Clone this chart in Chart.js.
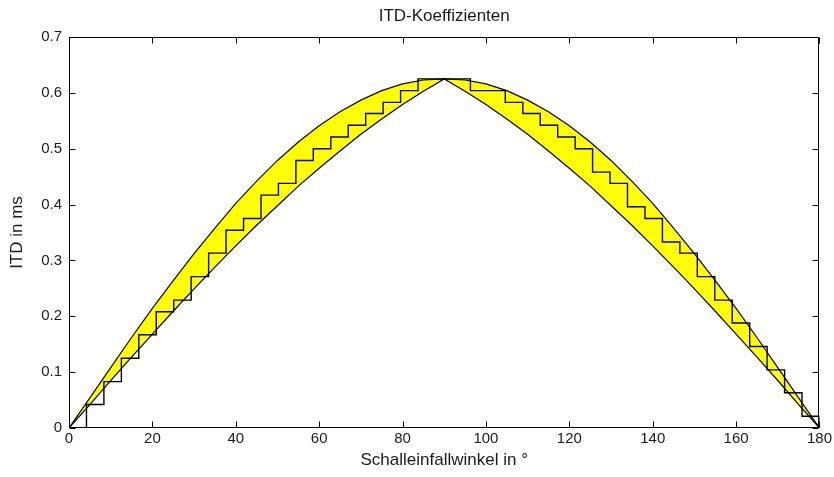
<!DOCTYPE html>
<html>
<head>
<meta charset="utf-8">
<script src="https://cdn.jsdelivr.net/npm/chart.js@4.4.0/dist/chart.umd.min.js"></script>
<style>
  html, body { margin: 0; padding: 0; background: #fff; }
  #wrap { width: 834px; height: 477px; }
</style>
</head>
<body>
<div id="wrap"><canvas id="c" width="834" height="477"></canvas></div>
<script>
// ---- data ----
const curveAngles = [0,5,10,15,20,25,30,35,40,45,50,55,60,65,70,75,80,85,90,
  95,100,105,110,115,120,125,130,135,140,145,150,155,160,165,170,175,180];
const upperITD = [0,0.054,0.108,0.162,0.214,0.264,0.312,0.358,0.402,0.442,0.479,0.512,0.541,0.566,0.587,0.604,0.616,0.623,0.625,
  0.623,0.616,0.604,0.587,0.566,0.541,0.512,0.479,0.442,0.402,0.358,0.312,0.264,0.214,0.162,0.108,0.054,0];
const lowerITD = [0,0.042,0.085,0.127,0.168,0.209,0.249,0.288,0.326,0.363,0.398,0.433,0.465,0.496,0.526,0.553,0.579,0.603,0.625,
  0.603,0.579,0.553,0.526,0.496,0.465,0.433,0.398,0.363,0.326,0.288,0.249,0.209,0.168,0.127,0.085,0.042,0];
const stairAngles = [0,4.19,8.37,12.56,16.74,20.93,25.12,29.3,33.49,37.67,41.86,46.05,50.23,54.42,58.6,62.79,66.98,71.16,75.35,79.53,83.72,87.91,
  92.09,96.28,100.47,104.65,108.84,113.02,117.21,121.4,125.58,129.77,133.95,138.14,142.33,146.51,150.7,154.88,159.07,163.26,167.44,171.63,175.81,180];
const stairITD = [0,0.042,0.083,0.125,0.167,0.208,0.229,0.271,0.313,0.354,0.375,0.417,0.438,0.479,0.5,0.521,0.542,0.563,0.583,0.604,0.625,0.625,
  0.625,0.604,0.604,0.583,0.563,0.542,0.521,0.5,0.458,0.438,0.396,0.375,0.333,0.313,0.271,0.229,0.188,0.146,0.104,0.063,0.021,0];
const xTicks = [0,20,40,60,80,100,120,140,160,180];
const yTicks = [0,0.1,0.2,0.3,0.4,0.5,0.6,0.7];
const titleText = 'ITD-Koeffizienten';
const xTitle = 'Schalleinfallwinkel in °';
const yTitle = 'ITD in ms';

const pts = (xs, ys) => xs.map((x, i) => ({x, y: ys[i]}));
const FONT = "'Liberation Sans', Arial, sans-serif";
const TEXT = '#1a1a1a';

const framePlugin = {
  id: 'frame',
  afterDatasetsDraw(chart) {
    const {ctx, chartArea: a, scales: {x, y}} = chart;
    const L = Math.round(a.left) + 0.5, R = Math.round(a.right) - 0.5;
    const T = Math.round(a.top) + 0.5, B = Math.round(a.bottom) - 0.5;
    const tl = 6;
    ctx.save();
    ctx.strokeStyle = '#000';
    ctx.lineWidth = 1;
    ctx.beginPath();
    ctx.rect(L, T, R - L, B - T);
    xTicks.forEach(v => {
      const px = Math.round(x.getPixelForValue(v)) + 0.5;
      ctx.moveTo(px, B); ctx.lineTo(px, B - tl);
      ctx.moveTo(px, T); ctx.lineTo(px, T + tl);
    });
    yTicks.forEach(v => {
      const py = Math.round(y.getPixelForValue(v)) + 0.5;
      ctx.moveTo(L, py); ctx.lineTo(L + tl, py);
      ctx.moveTo(R, py); ctx.lineTo(R - tl, py);
    });
    ctx.stroke();
    ctx.restore();
  }
};

new Chart(document.getElementById('c'), {
  type: 'line',
  data: {
    datasets: [
      { label: 'stairs', data: pts(stairAngles, stairITD), stepped: 'before',
        borderColor: '#000', borderWidth: 1.4, pointRadius: 0, fill: false },
      { label: 'upper', data: pts(curveAngles, upperITD),
        borderColor: '#000', borderWidth: 1.2, pointRadius: 0, tension: 0,
        fill: '+1', backgroundColor: '#ffff00' },
      { label: 'lower', data: pts(curveAngles, lowerITD),
        borderColor: '#000', borderWidth: 1.2, pointRadius: 0, tension: 0, fill: false }
    ]
  },
  options: {
    responsive: false,
    animation: false,
    layout: { padding: { left: 0, right: 14, top: 0, bottom: 0 } },
    plugins: {
      legend: { display: false },
      tooltip: { enabled: false },
      filler: { drawTime: 'beforeDatasetsDraw' },
      title: { display: true, text: titleText, fullSize: false, color: TEXT,
        font: { family: FONT, size: 17, weight: 'normal' }, padding: { top: 6.3, bottom: 10.3 } }
    },
    scales: {
      x: {
        type: 'linear', min: 0, max: 180,
        afterFit: s => { s.height = 49; },
        afterBuildTicks: s => { s.ticks = xTicks.map(v => ({value: v})); },
        grid: { display: false, drawTicks: false },
        border: { display: false },
        ticks: { color: TEXT, padding: 2, maxRotation: 0, autoSkip: false,
          font: { family: FONT, size: 15 }, callback: v => String(v) },
        title: { display: true, text: xTitle, color: TEXT,
          font: { family: FONT, size: 17 }, padding: { top: 0, bottom: 6.8 } }
      },
      y: {
        type: 'linear', min: 0, max: 0.7,
        afterFit: s => { s.width = 69; },
        afterBuildTicks: s => { s.ticks = yTicks.map(v => ({value: v})); },
        grid: { display: false, drawTicks: false },
        border: { display: false },
        ticks: { color: TEXT, padding: 7, autoSkip: false,
          font: { family: FONT, size: 15 }, callback: v => String(Math.round(v * 10) / 10) },
        title: { display: true, text: yTitle, color: TEXT,
          font: { family: FONT, size: 17 }, padding: { top: 6.8, bottom: 0 } }
      }
    }
  },
  plugins: [framePlugin]
});
</script>
</body>
</html>
